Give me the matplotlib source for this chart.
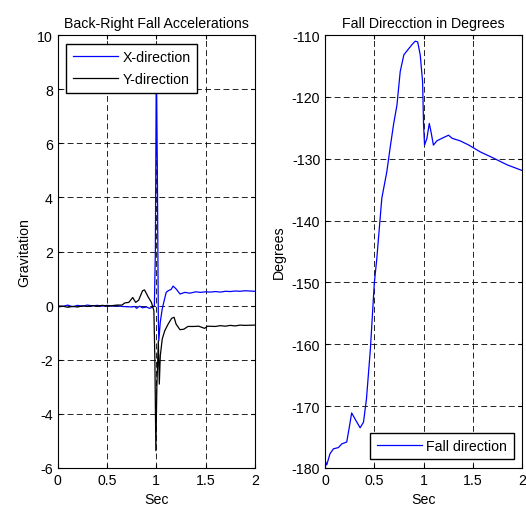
import numpy as np
import matplotlib
matplotlib.use('Agg')
import matplotlib.pyplot as plt

plt.rcParams['font.family'] = ['Liberation Sans', 'DejaVu Sans']
plt.rcParams['axes.unicode_minus'] = False

# acceleration, X direction
tx = [0.0, 0.05, 0.1, 0.15, 0.2, 0.25, 0.3, 0.35, 0.4, 0.45, 0.5, 0.55, 0.6, 0.65,
      0.7, 0.75, 0.78, 0.8, 0.83, 0.86, 0.9, 0.93, 0.96, 0.98, 0.99, 1.0, 1.01, 1.02,
      1.025, 1.04, 1.06, 1.075, 1.1, 1.12, 1.15, 1.17, 1.2, 1.24, 1.29, 1.34, 1.4,
      1.45, 1.5, 1.55, 1.6, 1.65, 1.7, 1.75, 1.8, 1.85, 1.9, 1.95, 2.0]
acc_x = [0.0, -0.03, 0.02, -0.04, 0.01, -0.02, 0.02, -0.01, 0.01, -0.02, 0.01, -0.02,
         0.0, -0.03, -0.04, -0.05, -0.03, -0.1, -0.02, -0.08, -0.05, -0.1, -0.06, 0.0,
         2.0, 9.3, 5.0, -0.5, -1.3, -0.6, -0.12, 0.12, 0.49, 0.55, 0.6, 0.72, 0.62,
         0.43, 0.49, 0.46, 0.51, 0.49, 0.51, 0.5, 0.52, 0.5, 0.53, 0.52, 0.54, 0.53,
         0.55, 0.54, 0.53]

# acceleration, Y direction
ty = [0.0, 0.05, 0.1, 0.15, 0.2, 0.25, 0.3, 0.35, 0.4, 0.45, 0.5, 0.55, 0.6, 0.65,
      0.68, 0.72, 0.76, 0.79, 0.82, 0.86, 0.88, 0.92, 0.95, 0.975, 0.985, 0.995,
      1.005, 1.02, 1.03, 1.04, 1.06, 1.085, 1.12, 1.155, 1.18, 1.2, 1.24, 1.28, 1.32,
      1.38, 1.43, 1.49, 1.52, 1.6, 1.65, 1.7, 1.75, 1.8, 1.85, 1.9, 2.0]
acc_y = [-0.05, -0.02, -0.06, -0.03, -0.05, -0.01, -0.03, 0.0, -0.02, 0.01, -0.01,
         0.0, 0.02, 0.02, 0.1, 0.12, 0.3, 0.12, 0.2, 0.55, 0.58, 0.3, 0.12, -0.19,
         -2.0, -5.36, -3.0, -1.3, -2.9, -1.85, -1.23, -0.93, -0.68, -0.47, -0.43,
         -0.68, -0.89, -0.87, -0.77, -0.77, -0.76, -0.84, -0.76, -0.77, -0.74, -0.76,
         -0.73, -0.75, -0.72, -0.73, -0.72]

# fall direction
td = [0.0, 0.017, 0.05, 0.085, 0.135, 0.17, 0.22, 0.245, 0.27, 0.305, 0.356, 0.39,
      0.42, 0.46, 0.5, 0.525, 0.576, 0.627, 0.66, 0.695, 0.73, 0.763, 0.8, 0.83,
      0.88, 0.915, 0.94, 0.966, 0.99, 1.0, 1.01, 1.034, 1.058, 1.075, 1.1, 1.136,
      1.186, 1.254, 1.29, 1.37, 1.46, 1.576, 1.71, 1.85, 2.0]
deg = [-178.8, -179.5, -177.7, -176.9, -176.7, -176.1, -175.8, -173.5, -171.1,
       -172.1, -173.5, -172.6, -168.9, -160.8, -150.1, -146.2, -136.4, -132.1,
       -128.3, -124.5, -121.3, -115.9, -113.2, -112.6, -111.6, -111.0, -111.1,
       -113.2, -117.5, -124.5, -127.8, -126.7, -124.3, -125.6, -127.8, -127.1,
       -126.7, -126.2, -126.7, -127.1, -127.8, -128.9, -129.9, -131.0, -131.9]

fs = 10.2
fig = plt.figure(figsize=(5.26, 5.10), dpi=100)
ax1 = fig.add_axes([0.110, 0.0804, 0.3745, 0.849])
ax2 = fig.add_axes([0.618, 0.0804, 0.3745, 0.849])

leg_kw = dict(fontsize=fs, fancybox=False, edgecolor='black', framealpha=1,
              handlelength=3.2, handletextpad=0.3, labelspacing=0.6,
              borderpad=0.45, borderaxespad=0.6)

ax1.plot(tx, acc_x, color='#0000ff', lw=0.9, label='X-direction')
ax1.plot(ty, acc_y, color='black', lw=0.9, label='Y-direction')
ax1.set_xlim(0, 2)
ax1.set_ylim(-6, 10)
ax1.set_yticks(np.arange(-6, 11, 2))
ax1.set_title('Back-Right Fall Accelerations', fontsize=fs)
ax1.set_xlabel('Sec', fontsize=fs)
ax1.set_ylabel('Gravitation', fontsize=fs)
ax1.legend(loc='upper left', **leg_kw)

ax2.plot(td, deg, color='#0000ff', lw=0.9, label='Fall direction')
ax2.set_xlim(0, 2)
ax2.set_ylim(-180, -110)
ax2.set_yticks(np.arange(-180, -109, 10))
ax2.set_title('Fall Direcction in Degrees', fontsize=fs)
ax2.set_xlabel('Sec', fontsize=fs)
ax2.set_ylabel('Degrees', fontsize=fs)
ax2.legend(loc='lower right', **leg_kw)

for ax in (ax1, ax2):
    ax.set_xticks([0, 0.5, 1, 1.5, 2])
    ax.set_xticklabels(['0', '0.5', '1', '1.5', '2'])
    ax.grid(True, color='black', linestyle=(0, (7, 4)), linewidth=0.6)
    ax.tick_params(direction='in', top=True, right=True, length=3, labelsize=fs)
    for s in ax.spines.values():
        s.set_linewidth(0.8)

fig.savefig('out.png', dpi=100)
